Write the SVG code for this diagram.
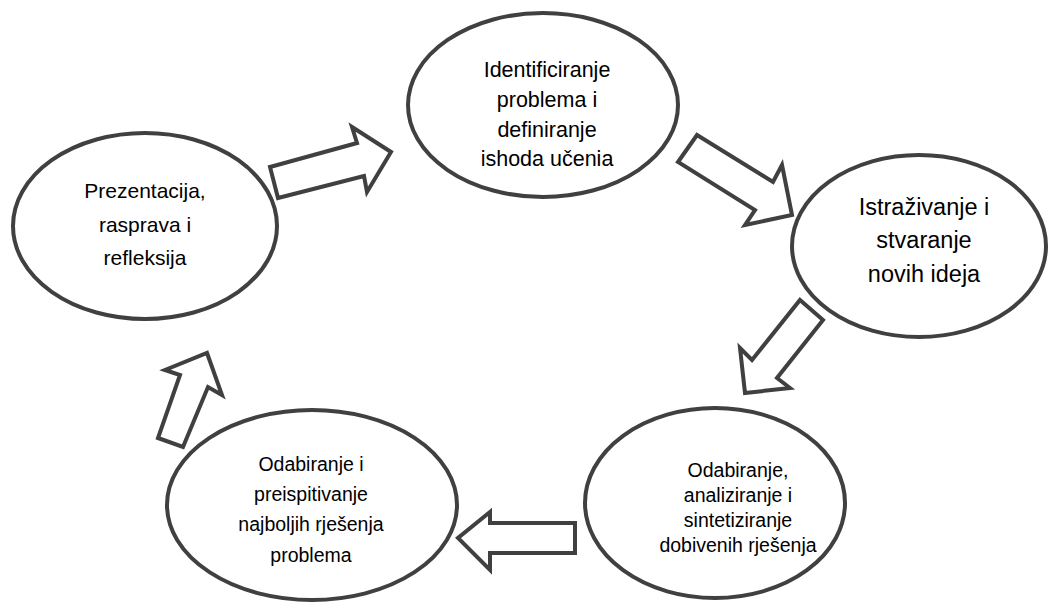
<svg xmlns="http://www.w3.org/2000/svg" width="1048" height="602" viewBox="0 0 1048 602">
<style>
.node ellipse{fill:#fff;stroke:#404040;stroke-width:4}
.arrow{fill:#fff;stroke:#404040;stroke-width:4;stroke-linejoin:miter}
text{font-family:"Liberation Sans",Arial,sans-serif;fill:#000;text-anchor:middle}
</style>
<rect width="1048" height="602" fill="#fff"/>
<g id="connectors">
<polygon class="arrow" points="270,167 357,143 352,127 391,152 367,192 364,176 278,198"/>
<polygon class="arrow" points="697,135 773,182 782,165 792,215 745,225 755,210 678,162"/>
<polygon class="arrow" points="800,300 823,320 777,378 790,388 745,393 740,348 752,360"/>
<polygon class="arrow" points="575,523 490,523 490,512 458,538 490,570 490,553 575,553"/>
<polygon class="arrow" points="158,438 183,447 208,387 222,395 207,353 165,370 180,375"/>
</g>
<g id="node-identificiranje" class="node">
<ellipse cx="543" cy="105" rx="135" ry="92"/>
<text font-size="21.5"><tspan x="547" y="77">Identificiranje</tspan><tspan x="547" y="107">problema i</tspan><tspan x="547" y="137">definiranje</tspan><tspan x="547" y="166">ishoda učenia</tspan></text>
</g>
<g id="node-istrazivanje" class="node">
<ellipse cx="919" cy="246" rx="127" ry="91"/>
<text font-size="23.5"><tspan x="924" y="215">Istraživanje i</tspan><tspan x="924" y="248">stvaranje</tspan><tspan x="924" y="282">novih ideja</tspan></text>
</g>
<g id="node-analiziranje" class="node">
<ellipse cx="715" cy="503" rx="130" ry="95"/>
<text font-size="19.5"><tspan x="738" y="477">Odabiranje,</tspan><tspan x="738" y="502">analiziranje i</tspan><tspan x="738" y="527">sintetiziranje</tspan><tspan x="738" y="552">dobivenih rješenja</tspan></text>
</g>
<g id="node-preispitivanje" class="node">
<ellipse cx="312" cy="505" rx="145" ry="95"/>
<text font-size="19.5"><tspan x="311" y="471">Odabiranje i</tspan><tspan x="311" y="501">preispitivanje</tspan><tspan x="311" y="531">najboljih rješenja</tspan><tspan x="311" y="562">problema</tspan></text>
</g>
<g id="node-prezentacija" class="node">
<ellipse cx="145" cy="226" rx="132" ry="93"/>
<text font-size="21"><tspan x="145" y="198">Prezentacija,</tspan><tspan x="145" y="232">rasprava i</tspan><tspan x="145" y="265">refleksija</tspan></text>
</g>
</svg>
